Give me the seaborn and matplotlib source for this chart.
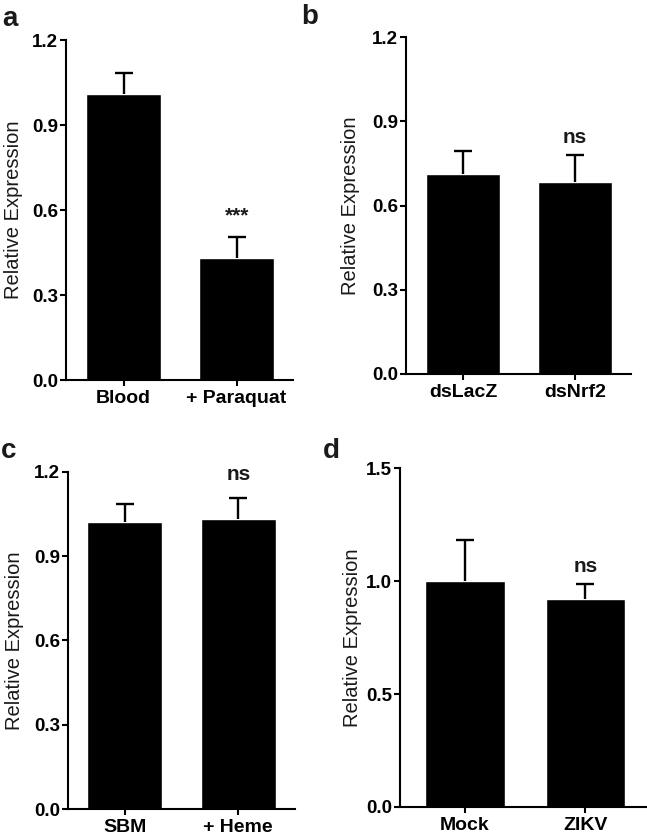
from matplotlib import pyplot as plt
import seaborn as sns
import numpy as np

##### Values (mean and upper error bar)
a_groups = ["Blood", "+ Paraquat"]
a_mean = [1.01, 0.43]
a_err = [0.073, 0.075]

b_groups = ["dsLacZ", "dsNrf2"]
b_mean = [0.712, 0.684]
b_err = [0.082, 0.096]

c_groups = ["SBM", "+ Heme"]
c_mean = [1.023, 1.033]
c_err = [0.062, 0.073]

d_groups = ["Mock", "ZIKV"]
d_mean = [1.0, 0.922]
d_err = [0.18, 0.066]

sns.set_style("ticks")
plt.rcParams['font.family'] = ['Liberation Sans', 'DejaVu Sans']

fig = plt.figure(figsize=(6.47, 8.38), dpi=100)

# axes rectangles in figure fractions
ax_a = fig.add_axes([0.102, 0.5465, 0.351, 0.4057])
ax_b = fig.add_axes([0.6275, 0.5537, 0.348, 0.402])
ax_c = fig.add_axes([0.105, 0.0345, 0.351, 0.4025])
ax_d = fig.add_axes([0.618, 0.0370, 0.38, 0.4045])


def panel(ax, groups, mean, err, ymax, ticks, mark, mark_y, xlim, label_x):
    sns.barplot(x=groups, y=mean, color='black', saturation=1, width=0.66, ax=ax)
    eb = ax.errorbar([0, 1], mean, yerr=[[0, 0], err], fmt='none', ecolor='black',
                     elinewidth=1.7, capsize=6.5, capthick=1.7)
    eb[1][0].set_visible(False)  # hide the lower caps, only the upper half is drawn
    ax.set_ylim(0, ymax)
    ax.set_xlim(*xlim)
    ax.set_yticks(ticks)
    ax.set_yticklabels(['%.1f' % t for t in ticks], fontsize=13.5, fontweight='bold', color='#1a1a1a')
    ax.set_xticks([0, 1])
    ax.set_xticklabels(groups, fontsize=14, fontweight='bold', color='#1a1a1a')
    ax.set_ylabel('Relative Expression', fontsize=14.5, color='#1a1a1a')
    ax.yaxis.set_label_coords(label_x, 0.5)
    for s in ['top', 'right']:
        ax.spines[s].set_visible(False)
    for s in ['left', 'bottom']:
        ax.spines[s].set_linewidth(1.5)
        ax.spines[s].set_color('black')
    ax.tick_params(width=1.5, length=4, pad=1.5, colors='black')
    ax.tick_params(axis='x', pad=3)
    ax.text(1, mark_y, mark, ha='center', va='center', fontsize=15, fontweight='bold', color='#1a1a1a')


panel(ax_a, a_groups, a_mean, a_err, 1.2, [0, 0.3, 0.6, 0.9, 1.2], '***', 0.58, (-0.51, 1.5), -0.19)
panel(ax_b, b_groups, b_mean, b_err, 1.2, [0, 0.3, 0.6, 0.9, 1.2], 'ns', 0.844, (-0.51, 1.5), -0.204)
panel(ax_c, c_groups, c_mean, c_err, 1.2, [0, 0.3, 0.6, 0.9, 1.2], 'ns', 1.189, (-0.5, 1.5), -0.194)
panel(ax_d, d_groups, d_mean, d_err, 1.5, [0, 0.5, 1.0, 1.5], 'ns', 1.063, (-0.54, 1.5), -0.155)

# panel letters
for letter, x, y in [('a', 0.004, 0.977), ('b', 0.466, 0.98), ('c', 0.002, 0.462), ('d', 0.499, 0.462)]:
    fig.text(x, y, letter, fontsize=20, fontweight='bold', color='#1a1a1a', va='center')

plt.savefig('out.png', dpi=100)
